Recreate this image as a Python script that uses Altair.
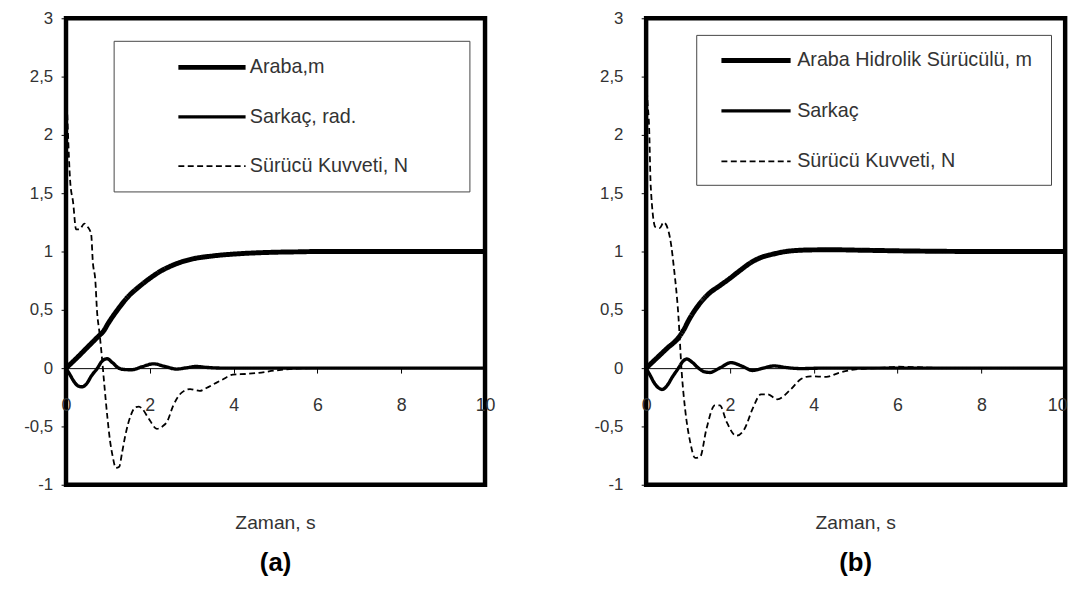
import altair as alt
import pandas as pd

FONT = "Liberation Sans"

# ---------------- Panel (a) ----------------
a_series = ["Araba,m", "Sarkaç, rad.", "Sürücü Kuvveti, N"]

a_araba_t = [0, 0.25, 0.5, 0.75, 0.9, 1.0, 1.25, 1.5, 1.75, 2.0, 2.25, 2.5, 2.75, 3.0, 3.5, 4.0, 4.5, 5.0, 5.5, 6, 7, 8, 9, 10]
a_araba_v = [0, 0.085, 0.175, 0.265, 0.32, 0.38, 0.51, 0.62, 0.70, 0.77, 0.83, 0.875, 0.91, 0.935, 0.962, 0.978, 0.988, 0.994, 0.997, 1.0, 1.0, 1.0, 1.0, 1.0]

a_sarkac_t = [0, 0.1, 0.2, 0.3, 0.38, 0.5, 0.6, 0.75, 0.86, 0.98, 1.1, 1.26, 1.4, 1.57, 1.8, 2.09, 2.35, 2.64, 2.86, 3.1, 3.4, 3.8, 4.5, 10]
a_sarkac_v = [0, -0.06, -0.12, -0.155, -0.16, -0.13, -0.07, 0.0, 0.06, 0.08, 0.05, 0.0, -0.012, -0.014, 0.01, 0.037, 0.015, -0.008, 0.002, 0.014, 0.005, 0.0, 0.0, 0.0]

a_kuvvet_t = [0, 0.04, 0.1, 0.17, 0.24, 0.32, 0.44, 0.52, 0.6, 0.64, 0.70, 0.74, 0.80, 0.85, 0.91, 0.99, 1.05, 1.11, 1.19, 1.27, 1.34, 1.42, 1.54, 1.66, 1.74, 1.82, 1.97, 2.17, 2.30, 2.41, 2.56, 2.76, 2.96, 3.19, 3.35, 3.51, 3.74, 3.98, 4.3, 4.6, 5.0, 5.5, 6.0, 10]
a_kuvvet_v = [2.5, 2.08, 1.6, 1.42, 1.19, 1.19, 1.24, 1.21, 1.15, 0.91, 0.75, 0.49, 0.30, 0.12, -0.125, -0.43, -0.62, -0.75, -0.855, -0.845, -0.72, -0.57, -0.41, -0.335, -0.33, -0.35, -0.43, -0.52, -0.50, -0.46, -0.32, -0.21, -0.18, -0.195, -0.17, -0.14, -0.097, -0.056, -0.05, -0.04, -0.02, -0.005, 0.0, 0.0]

# ---------------- Panel (b) ----------------
b_series = ["Araba Hidrolik Sürücülü, m", "Sarkaç", "Sürücü Kuvveti, N"]

b_araba_t = [0, 0.25, 0.5, 0.77, 0.9, 1.0, 1.25, 1.5, 1.75, 2.0, 2.25, 2.5, 2.75, 3.0, 3.25, 3.5, 4.0, 4.5, 5.0, 5.5, 6.0, 7.0, 8, 9, 10]
b_araba_v = [0, 0.085, 0.17, 0.26, 0.33, 0.40, 0.54, 0.64, 0.705, 0.77, 0.84, 0.905, 0.95, 0.975, 0.995, 1.007, 1.014, 1.015, 1.012, 1.009, 1.006, 1.002, 1.0, 1.0, 1.0]

b_sarkac_t = [0, 0.1, 0.2, 0.3, 0.38, 0.5, 0.62, 0.77, 0.87, 0.97, 1.1, 1.25, 1.38, 1.52, 1.75, 2.03, 2.3, 2.54, 2.8, 3.05, 3.35, 3.7, 4.2, 10]
b_sarkac_v = [0, -0.065, -0.13, -0.17, -0.183, -0.15, -0.08, 0.0, 0.055, 0.078, 0.05, 0.0, -0.03, -0.037, 0.0, 0.047, 0.015, -0.02, 0.0, 0.019, 0.005, -0.004, 0.0, 0.0]

b_kuvvet_t = [0, 0.03, 0.07, 0.11, 0.22, 0.32, 0.42, 0.54, 0.60, 0.66, 0.77, 0.85, 0.93, 1.05, 1.17, 1.29, 1.44, 1.64, 1.76, 1.92, 2.15, 2.35, 2.54, 2.74, 2.90, 3.13, 3.45, 3.68, 3.92, 4.3, 4.6, 5.0, 5.5, 6.0, 6.5, 7.0, 7.5, 10]
b_kuvvet_v = [2.54, 2.3, 2.08, 1.56, 1.21, 1.2, 1.25, 1.165, 1.05, 0.87, 0.45, -0.04, -0.35, -0.63, -0.77, -0.76, -0.52, -0.32, -0.32, -0.46, -0.58, -0.52, -0.35, -0.225, -0.225, -0.267, -0.183, -0.098, -0.07, -0.075, -0.04, -0.01, 0.0, 0.012, 0.008, 0.002, 0.0, 0.0]

y_ticks = [-1, -0.5, 0, 0.5, 1, 1.5, 2, 2.5, 3]
x_ticks = [0, 2, 4, 6, 8, 10]

W, H = 424, 472
LEG_FS = 20


def long_frame(series, pairs):
    rows = []
    for name, (ts, vs) in zip(series, pairs):
        for t, v in zip(ts, vs):
            rows.append({"t": t, "v": v, "s": name})
    return pd.DataFrame(rows)


def panel(series, pairs, letter, box, leg, ylabpad, last_align, last_shift):
    df = long_frame(series, pairs)
    legend = alt.Legend(
        title=None, orient="none", legendX=leg["x"], legendY=leg["y"],
        direction="vertical", symbolType=leg["path"], symbolSize=16,
        symbolOffset=leg["so"], labelOffset=leg["lo"], rowPadding=leg["rp"],
        labelFont=FONT, labelFontSize=LEG_FS, labelColor="#333", padding=0,
        labelLimit=500,
    )
    lines = alt.Chart(df).mark_line(interpolate="monotone").encode(
        x=alt.X("t:Q", scale=alt.Scale(domain=[0, 10], nice=False, zero=False),
                axis=alt.Axis(values=x_ticks, title=None, grid=False, domain=True,
                              domainColor="black", domainWidth=1, ticks=True,
                              tickColor="black", tickSize=5, labelPadding=24,
                              labelFont=FONT, labelFontSize=18, labelColor="#333",
                              labelFlush=False, labelOverlap=False, labelBound=False,
                              labelAlign={"condition": {"test": "datum.value == 10", "value": last_align}, "value": "center"},
                              labelOffset={"condition": {"test": "datum.value == 10", "value": last_shift}, "value": 0},
                              offset=-H / 4)),
        y=alt.Y("v:Q", scale=alt.Scale(domain=[-1, 3], nice=False, zero=False),
                axis=alt.Axis(values=y_ticks, title=None, grid=False, domain=False,
                              tickColor="black", tickSize=5, labelPadding=ylabpad,
                              labelFont=FONT, labelFontSize=17, labelColor="#333",
                              labelExpr="replace(toString(datum.value), '.', ',')")),
        color=alt.Color("s:N", scale=alt.Scale(domain=series, range=["black"] * 3), legend=legend),
        strokeDash=alt.StrokeDash("s:N", scale=alt.Scale(domain=series, range=[[1, 0], [1, 0], [6, 3.5]]), legend=legend),
        strokeWidth=alt.StrokeWidth("s:N", scale=alt.Scale(domain=series, range=[5, 1.8, 2.4]), legend=legend),
    )
    frame = alt.Chart(alt.Data(values=[{"k": 0}])).mark_rect(
        fill="white", stroke="#444", strokeWidth=1
    ).encode(x=alt.value(box[0]), x2=alt.value(box[1]), y=alt.value(box[2]), y2=alt.value(box[3]))
    return alt.layer(frame, lines).properties(
        width=W, height=H,
        title=alt.TitleParams(
            text="Zaman, s", subtitle=letter, orient="bottom", anchor="middle",
            font=FONT, fontSize=19.5, fontWeight="normal", color="#333", offset=22,
            subtitleFont=FONT, subtitleFontSize=26, subtitleFontWeight="bold",
            subtitleColor="black", subtitlePadding=17,
        ),
    )


left = panel(a_series,
             [(a_araba_t, a_araba_v), (a_sarkac_t, a_sarkac_v), (a_kuvvet_t, a_kuvvet_v)],
             "(a)", (48.7, 408.7, 23.3, 175.7),
             {"x": 113.7, "y": 39.7, "path": "M-17,0H17", "so": 24, "lo": 28.3, "rp": 30}, 8.5, "center", 0)
right = panel(b_series,
              [(b_araba_t, b_araba_v), (b_sarkac_t, b_sarkac_v), (b_kuvvet_t, b_kuvvet_v)],
              "(b)", (51.2, 410.2, 17.3, 169),
              {"x": 76.2, "y": 32.7, "path": "M-17.5,0H17.5", "so": 25, "lo": 31.6, "rp": 31}, 18.5, "right", 2)

chart = alt.hconcat(left, right, spacing=163, bounds="flush").resolve_scale(
    color="independent", strokeDash="independent", strokeWidth="independent"
).resolve_legend(
    color="independent", strokeDash="independent", strokeWidth="independent"
).properties(
    padding={"left": 12.7, "top": -5, "right": 0, "bottom": 0}
).configure_view(stroke="black", strokeWidth=4.5)

chart.save("out.html", embed_options={"renderer": "svg", "actions": False})
